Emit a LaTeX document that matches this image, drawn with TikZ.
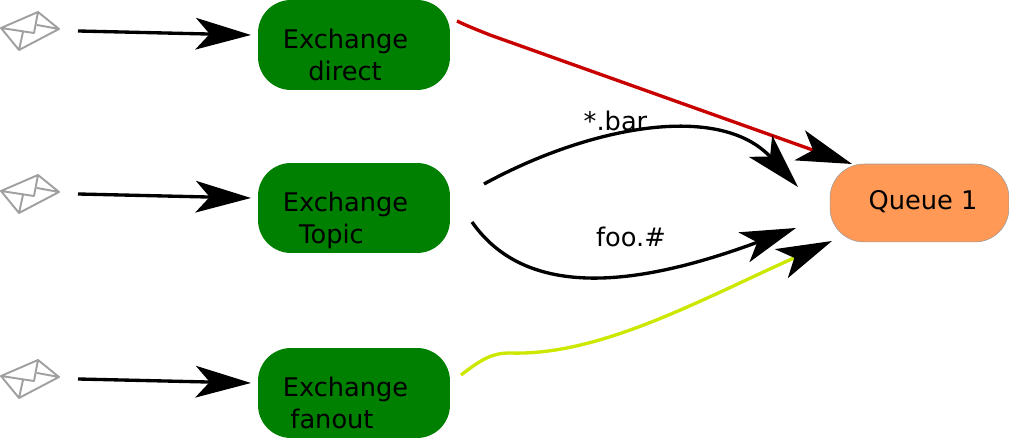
\documentclass[tikz,border=0pt]{standalone}
\usepackage{fontspec}
\setmainfont{DejaVu Sans}
\usetikzlibrary{arrows.meta}
\definecolor{boxgreen}{HTML}{008000}
\definecolor{queueorange}{HTML}{FF9955}
\definecolor{mailgray}{HTML}{A0A0A0}
\definecolor{bindred}{HTML}{C80000}
\definecolor{bindyellow}{HTML}{CCE800}

\tikzset{
  exchange/.style={fill=boxgreen, minimum width=3.84cm, minimum height=1.8cm, rounded corners=0.66cm, inner sep=0},
  queue/.style={fill=queueorange, draw=black!40, line width=0.3pt, minimum width=3.58cm, minimum height=1.56cm, rounded corners=0.68cm, inner sep=0},
  boxtext/.style={anchor=base, inner sep=0, font=\fontsize{14.6}{16}\selectfont},
  bind/.style={line width=1.9pt, line cap=butt},
  mail/.pic={
    \draw[mailgray, line width=1.1pt, line join=round] (1,16) -- (38,0) -- (59,17) -- (19,38) -- cycle
      (1,16) -- (34,21) -- (38,0)
      (37,13) -- (59,17)
      (23,20) -- (19,38);
  }
}

\begin{document}
\begin{tikzpicture}[>={Stealth[length=31.5pt, width=18pt, inset=8pt, black]}, x=0.02cm, y=-0.02cm]

\useasboundingbox (0,0) rectangle (1009,438);

\foreach \n/\y/\name/\tx in {1/0/direct/345, 2/163/Topic/331.5, 3/348/fanout/332}{
  \node[exchange] (ex\n) at (354,45+\y) {};
  \node[boxtext] (exa\n) at (345.5,48.5+\y) {Exchange};
  \node[boxtext] (exb\n) at (\tx,80.5+\y) {\name};
  \pic at (0,12+\y) {mail};
  \coordinate (in\n) at (78,31+\y);
  \coordinate (out\n) at (251,35+\y);
  \draw[->, bind] (in\n) -- (out\n);
}

\node[queue] (q1) at (919.5,203) {};
\node[boxtext] (qtext) at (923,209.5) {Queue 1};

\node[boxtext] (lbar) at (615.5,130.5) {*.bar};
\node[boxtext] (lfoo) at (631,246.5) {foo.\#};

\coordinate (rstart) at (457,21);
\coordinate (rend) at (852,164);
\coordinate (tstart) at (484,184);
\coordinate (tend) at (798,187);
\coordinate (fstart) at (472,222);
\coordinate (fend) at (796,228);
\coordinate (ystart) at (461,375);
\coordinate (yend) at (832,241);

\draw[->, bind, bindred] (rstart) .. controls (465,25) and (475,29) .. (490,35) -- (rend);
\draw[->, bind] (tstart) .. controls (590,126) and (720,102) .. (tend);
\draw[->, bind] (fstart) .. controls (530,305) and (650,282) .. (fend);
\draw[->, bind, bindyellow] (ystart) .. controls (482,359) and (492,353) .. (510,353) .. controls (600,356) and (700,300) .. (yend);

\end{tikzpicture}
\end{document}
